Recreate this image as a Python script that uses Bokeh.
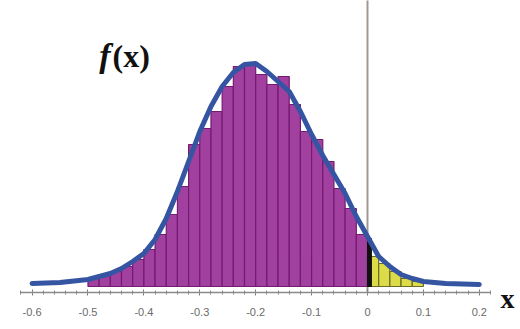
from bokeh.plotting import figure
from bokeh.models import Range1d, FixedTicker, Label, LinearAxis
from bokeh.embed import file_html
from bokeh.resources import INLINE

# histogram bins (left edges, width 0.02)
bin_width = 0.02
purple_left = [-0.50, -0.48, -0.46, -0.44, -0.42, -0.40, -0.38, -0.36, -0.34, -0.32,
               -0.30, -0.28, -0.26, -0.24, -0.22, -0.20, -0.18, -0.16, -0.14, -0.12,
               -0.10, -0.08, -0.06, -0.04, -0.02]
purple_height = [8, 11, 15, 20, 27, 37, 52, 72, 100, 142,
                 158, 175, 200, 220, 224, 212, 202, 210, 182, 155,
                 147, 125, 98, 78, 52]
yellow_left = [0.00, 0.02, 0.04, 0.06, 0.08]
yellow_height = [30, 23, 15, 8, 5]
black_height = 48

# fitted density curve
curve_x = [-0.60, -0.55, -0.50, -0.48, -0.46, -0.44, -0.42, -0.40, -0.38, -0.36,
           -0.34, -0.32, -0.30, -0.28, -0.26, -0.24, -0.22, -0.20, -0.18, -0.16,
           -0.14, -0.12, -0.10, -0.08, -0.06, -0.04, -0.02, 0.00, 0.02, 0.04,
           0.06, 0.08, 0.10, 0.14, 0.20]
curve_y = [3, 4, 7, 10, 13, 18, 25, 33, 47, 68,
           95, 125, 155, 180, 200, 214, 222, 223, 215, 205,
           195, 175, 152, 131, 112, 93, 70, 50, 30, 20,
           12, 8, 5, 3, 2]

major_ticks = [-0.6, -0.5, -0.4, -0.3, -0.2, -0.1, 0.0, 0.1, 0.2]
tick_labels = ["-0.6", "-0.5", "-0.4", "-0.3", "-0.2", "-0.1", "0", "0.1", "0.2"]

p = figure(width=520, height=329, output_backend="svg", toolbar_location=None,
           x_range=Range1d(-0.6565, 0.2737), y_range=Range1d(-43, 286),
           min_border_left=0, min_border_right=0, min_border_top=0, min_border_bottom=0,
           x_axis_location=None, y_axis_location=None)
p.outline_line_color = None
p.xgrid.visible = False
p.ygrid.visible = False
p.background_fill_color = "white"

# vertical line at x = 0
p.segment(x0=[0], y0=[-6], x1=[0], y1=[290], line_color="#a09890", line_width=2)

p.quad(left=purple_left, right=[v + bin_width for v in purple_left],
       bottom=0, top=purple_height, fill_color="#a2409f", line_color="#741a72",
       line_width=1.2)
p.quad(left=yellow_left, right=[v + bin_width for v in yellow_left],
       bottom=0, top=yellow_height, fill_color="#dcdc48", line_color="#6c6a28",
       line_width=1.2)
p.quad(left=[0.0], right=[0.007], bottom=0, top=[black_height],
       fill_color="#111111", line_color="#111111")

p.line(curve_x, curve_y, line_color="#3555a2", line_width=5, line_join="round",
       line_cap="round")

ax = LinearAxis(fixed_location=-6)
p.add_layout(ax, "below")
ax.ticker = FixedTicker(ticks=major_ticks,
                        minor_ticks=[round(-0.62 + 0.02 * i, 2) for i in range(43)])
ax.major_label_overrides = {t: l for t, l in zip(major_ticks, tick_labels)}
ax.bounds = (-0.62, 0.22)
ax.axis_line_color = "#8a8a8a"
ax.axis_line_width = 1.5
ax.major_tick_line_color = "#777777"
ax.minor_tick_line_color = "#8a8a8a"
ax.major_tick_in = 3
ax.major_tick_out = 3
ax.minor_tick_in = 2
ax.minor_tick_out = 2
ax.major_label_standoff = 12
ax.major_label_text_font = "Liberation Sans"
ax.major_label_text_font_size = "11px"
ax.major_label_text_color = "#6a6a6a"

p.add_layout(Label(x=0.238, y=-12, text="x", text_font="Liberation Serif",
                   text_font_style="bold", text_font_size="28px",
                   text_color="#111111", text_baseline="middle"))
p.add_layout(Label(x=-0.480, y=231, text="f", text_font="Liberation Serif",
                   text_font_style="bold italic", text_font_size="34px",
                   text_color="#111111", text_baseline="middle"))
p.add_layout(Label(x=-0.456, y=231, text="(x)", text_font="Liberation Serif",
                   text_font_style="bold", text_font_size="32px",
                   text_color="#111111", text_baseline="middle"))

open("out.html", "w").write(file_html(p, INLINE))
